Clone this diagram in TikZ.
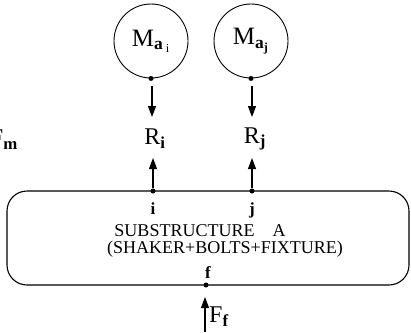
\documentclass[tikz,border=0pt]{standalone}
\usepackage{fontspec}
\setmainfont{Liberation Serif}
\usetikzlibrary{arrows.meta}
\begin{document}
\begin{tikzpicture}[x=1pt,y=-1pt,
  mass/.style={draw,circle,line width=0.9pt,minimum size=74pt,inner sep=0pt,font=\fontsize{25}{26}\selectfont},
  dotpt/.style={circle,fill,inner sep=0pt,minimum size=5pt},
  arr/.style={line width=1.1pt,-{Triangle[length=11pt,width=8pt]}},
  lbl/.style={font=\fontsize{24}{25}\selectfont,inner sep=0pt},
  small/.style={font=\fontsize{17}{18}\selectfont,inner sep=0pt},
  boxtxt/.style={font=\fontsize{18}{15}\selectfont,inner sep=0pt}]
\useasboundingbox (0,0) rectangle (411,332);
\node[mass] (Mi) at (151,41) {M\textsubscript{\textbf{a}\,\textsubscript{i}}};
\node[mass] (Mj) at (251,41) {M\textsubscript{\textbf{a}\textsubscript{\textbf{j}}}};
\node[dotpt] (mi) at (Mi.south) {};
\node[dotpt] (mj) at (Mj.south) {};
\node[lbl] (Ri) at (155,139) {R\textsubscript{\textbf{i}}};
\node[lbl] (Rj) at (255,139) {R\textsubscript{\textbf{j}}};
\draw[line width=1.1pt,rounded corners=20pt] (7,191) rectangle (409,285);
\node[dotpt] (pi) at (153,191) {};
\node[dotpt] (pj) at (252,191) {};
\node[dotpt] (pf) at (206,285) {};
\node[small] (li) at (153,209) {\textbf{i}};
\node[small] (lj) at (252,210) {\textbf{j}};
\node[small] (lf) at (208,273) {\textbf{f}};
\node[boxtxt] (sub1) at (200,231) {SUBSTRUCTURE\quad A};
\node[boxtxt] (sub2) at (225,249) {(SHAKER+BOLTS+FIXTURE)};
\coordinate (ai) at (152,86);
\coordinate (aj) at (252,86);
\draw[arr] (ai) -- (152,117);
\draw[arr] (aj) -- (252,117);
\draw[arr] (pi) -- (153,158);
\draw[arr] (pj) -- (252,158);
\coordinate (fb) at (205,332);
\draw[arr] (fb) -- (205,297);
\node[lbl,anchor=west] (Ff) at (209,317) {F\textsubscript{\textbf{f}}};
\node[lbl,anchor=east] (Fm) at (18,140) {F\textsubscript{\textbf{m}}};
\end{tikzpicture}
\end{document}
